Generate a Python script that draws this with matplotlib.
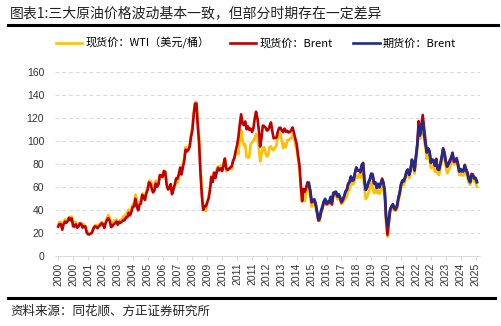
import numpy as np
import matplotlib
import matplotlib.pyplot as plt
from matplotlib.lines import Line2D

matplotlib.use('Agg')

plt.rcParams['font.family'] = ['Noto Sans CJK SC', 'DejaVu Sans']

# Monthly averages, Jan 2000 - Oct 2025 (USD/bbl)
wti_spot = [
    27.3, 29.4, 29.8, 25.7, 28.8, 31.8, 29.7, 31.3, 33.9, 33.1, 34.4, 28.4,   # 2000
    29.6, 29.6, 27.3, 27.5, 28.6, 27.6, 26.4, 27.4, 26.2, 22.2, 19.6, 19.4,   # 2001
    19.7, 20.7, 24.5, 26.2, 27.0, 25.5, 27.0, 28.4, 29.7, 28.8, 26.4, 29.5,   # 2002
    33.0, 35.8, 33.5, 28.2, 28.1, 30.7, 30.8, 31.6, 28.3, 30.3, 31.1, 32.1,   # 2003
    34.3, 34.7, 36.7, 36.8, 40.3, 38.0, 40.8, 44.9, 45.9, 53.3, 48.5, 43.2,   # 2004
    46.8, 48.2, 54.2, 53.0, 49.8, 56.4, 59.0, 65.0, 65.6, 62.3, 58.3, 59.4,   # 2005
    65.5, 61.6, 62.7, 69.4, 70.8, 71.0, 74.4, 73.0, 63.8, 58.9, 59.1, 62.0,   # 2006
    54.5, 59.3, 60.4, 64.0, 63.5, 67.5, 74.1, 72.4, 79.9, 85.8, 94.8, 91.7,   # 2007
    93.0, 95.4, 105.5, 112.6, 125.4, 133.9, 133.4, 116.7, 104.1, 76.6, 57.3, 41.1,  # 2008
    41.7, 39.1, 47.9, 49.7, 59.0, 69.6, 64.2, 71.1, 69.4, 75.7, 78.0, 74.5,   # 2009
    78.3, 76.4, 81.2, 84.3, 73.7, 75.3, 76.3, 76.6, 75.2, 81.9, 84.3, 89.2,   # 2010
    89.2, 88.6, 102.9, 109.5, 100.9, 96.3, 97.3, 86.3, 85.5, 86.3, 97.2, 98.6,  # 2011
    100.3, 102.2, 106.2, 103.3, 94.7, 82.3, 87.9, 94.1, 94.5, 89.5, 86.5, 87.9,  # 2012
    94.8, 95.3, 92.9, 92.0, 94.5, 95.8, 104.7, 106.6, 106.3, 100.5, 93.9, 97.6,  # 2013
    94.6, 100.8, 100.8, 102.1, 102.2, 105.8, 103.6, 96.5, 93.2, 84.4, 75.8, 59.3,  # 2014
    47.2, 50.6, 47.8, 54.5, 59.3, 59.8, 50.9, 42.9, 45.5, 46.2, 42.4, 37.2,   # 2015
    31.7, 30.3, 37.6, 40.8, 46.7, 48.8, 44.7, 44.7, 45.2, 49.8, 45.7, 52.0,   # 2016
    52.5, 53.5, 49.3, 51.1, 48.5, 45.2, 46.6, 48.0, 49.8, 51.6, 56.6, 57.9,   # 2017
    63.7, 62.2, 62.7, 66.3, 70.0, 67.9, 71.0, 68.1, 70.2, 70.8, 57.0, 49.5,   # 2018
    51.4, 55.0, 58.2, 63.9, 60.8, 54.7, 57.4, 54.8, 57.0, 54.0, 57.0, 59.9,   # 2019
    57.5, 50.5, 29.2, 16.6, 28.6, 38.3, 40.7, 42.3, 39.6, 39.4, 40.9, 47.0,   # 2020
    52.0, 59.0, 62.3, 61.7, 65.2, 71.4, 72.5, 67.7, 71.7, 81.5, 79.2, 71.7,   # 2021
    83.2, 91.6, 108.5, 101.8, 109.6, 114.8, 101.6, 93.7, 84.3, 87.6, 84.4, 76.4,  # 2022
    78.1, 76.8, 73.3, 79.5, 71.6, 70.3, 76.1, 81.4, 89.4, 85.6, 77.7, 71.9,   # 2023
    74.2, 77.3, 81.3, 85.4, 80.0, 79.8, 81.8, 76.7, 70.2, 72.0, 70.0, 70.1,   # 2024
    75.1, 71.5, 68.2, 63.5, 61.9, 67.3, 67.1, 64.9, 64.0, 60.1,               # 2025
]

brent_spot = [
    25.5, 27.8, 27.5, 22.8, 27.7, 29.8, 28.7, 30.2, 33.1, 31.0, 32.6, 25.7,   # 2000
    25.6, 27.5, 24.5, 25.7, 28.3, 27.9, 24.6, 25.7, 25.6, 20.5, 18.8, 18.7,   # 2001
    19.4, 20.3, 23.7, 25.7, 25.4, 24.1, 25.7, 26.7, 28.4, 27.5, 24.3, 28.3,   # 2002
    31.2, 32.8, 30.6, 25.0, 25.9, 27.7, 28.4, 29.9, 27.1, 29.6, 28.8, 29.8,   # 2003
    31.3, 30.9, 33.6, 33.6, 37.6, 35.2, 38.2, 42.7, 43.2, 49.8, 43.1, 39.6,   # 2004
    44.5, 45.5, 53.1, 51.9, 48.7, 54.4, 57.5, 64.0, 62.9, 58.5, 55.2, 56.9,   # 2005
    63.0, 60.2, 62.1, 70.3, 69.8, 68.6, 73.7, 73.2, 62.0, 57.8, 58.8, 62.5,   # 2006
    53.7, 57.6, 62.1, 67.5, 67.2, 71.1, 76.9, 70.8, 77.2, 82.3, 92.4, 90.9,   # 2007
    92.2, 95.0, 103.6, 109.1, 122.8, 132.3, 132.7, 113.2, 97.2, 71.6, 52.5, 40.0,  # 2008
    43.4, 43.3, 46.5, 50.2, 57.3, 68.6, 64.4, 72.5, 67.7, 72.8, 76.7, 74.5,   # 2009
    76.2, 73.8, 78.8, 84.8, 76.0, 74.8, 75.6, 77.0, 77.8, 82.7, 85.3, 91.5,   # 2010
    96.5, 103.7, 114.6, 123.3, 115.0, 113.8, 117.0, 110.2, 112.8, 109.6, 110.8, 107.9,  # 2011
    110.7, 119.3, 125.5, 119.8, 110.3, 95.2, 102.6, 113.4, 112.9, 111.7, 109.1, 109.5,  # 2012
    113.0, 116.1, 108.5, 102.3, 102.6, 102.9, 107.9, 111.3, 111.6, 109.1, 107.8, 110.8,  # 2013
    108.1, 108.9, 107.5, 107.8, 109.5, 111.8, 106.8, 101.6, 97.1, 87.4, 79.4, 62.3,  # 2014
    47.8, 58.1, 55.9, 59.5, 64.1, 61.5, 56.6, 46.5, 47.6, 48.4, 44.3, 38.0,   # 2015
    30.7, 32.2, 38.2, 41.6, 46.7, 48.3, 45.0, 45.8, 46.6, 49.5, 44.7, 53.3,   # 2016
    54.6, 54.9, 51.6, 52.3, 50.3, 46.4, 48.5, 51.7, 56.2, 57.5, 62.7, 64.4,   # 2017
    69.1, 65.3, 66.0, 72.1, 77.0, 74.4, 74.3, 72.5, 78.9, 81.0, 64.8, 57.4,   # 2018
    59.4, 64.0, 66.1, 71.2, 71.3, 64.2, 63.9, 59.0, 62.8, 59.7, 63.2, 67.3,   # 2019
    63.7, 55.7, 32.0, 18.4, 29.4, 40.3, 43.2, 44.7, 40.9, 40.2, 42.7, 50.0,   # 2020
    54.8, 62.3, 65.4, 64.8, 68.5, 73.2, 75.2, 70.8, 74.5, 83.5, 81.1, 74.2,   # 2021
    86.5, 97.1, 117.3, 104.6, 113.3, 122.7, 111.9, 100.5, 89.8, 93.3, 91.4, 80.9,  # 2022
    82.5, 82.6, 78.4, 84.6, 75.5, 74.8, 80.1, 86.2, 93.7, 90.6, 82.9, 77.6,   # 2023
    80.1, 83.5, 85.4, 89.9, 81.8, 82.3, 85.2, 80.4, 74.0, 75.6, 74.4, 73.9,   # 2024
    79.3, 75.4, 72.6, 67.8, 64.5, 71.4, 71.0, 67.9, 68.0, 64.6,               # 2025
]

# Brent futures, Jun 2015 - Oct 2025
brent_fut = [
    63.6, 56.8, 47.7, 48.4, 49.3, 45.9, 38.9,                                 # 2015
    31.9, 33.5, 39.8, 43.3, 47.6, 49.7, 46.5, 47.2, 47.2, 51.4, 47.1, 54.9,   # 2016
    55.5, 56.0, 52.5, 53.8, 51.4, 47.6, 49.1, 51.9, 55.5, 57.6, 62.9, 64.2,   # 2017
    69.1, 65.7, 66.7, 72.1, 76.8, 74.4, 74.3, 73.8, 79.1, 80.6, 65.9, 57.7,   # 2018
    60.2, 64.4, 66.9, 71.6, 70.3, 63.0, 64.2, 59.5, 62.3, 59.6, 63.0, 65.9,   # 2019
    63.7, 55.5, 33.7, 26.6, 32.4, 40.8, 43.2, 45.0, 41.9, 41.5, 43.9, 50.2,   # 2020
    55.3, 62.3, 65.7, 65.3, 68.3, 73.4, 75.0, 70.5, 74.9, 83.8, 80.8, 74.8,   # 2021
    86.5, 97.1, 112.5, 105.9, 112.0, 117.5, 105.1, 97.7, 90.6, 93.6, 90.9, 81.3,  # 2022
    83.9, 83.5, 79.2, 83.4, 75.6, 75.0, 80.1, 85.1, 92.6, 88.7, 82.0, 77.9,   # 2023
    80.1, 81.7, 85.4, 89.0, 83.0, 82.6, 84.4, 79.2, 73.3, 75.4, 73.4, 73.6,   # 2024
    78.4, 75.2, 71.5, 66.5, 64.0, 69.8, 70.0, 67.3, 67.6, 64.0,               # 2025
]

# category axis labels (one every 11 months, as in the source chart)
tick_labels = ['2000', '2000', '2001', '2002', '2003', '2004', '2005', '2006',
               '2007', '2008', '2009', '2010', '2011', '2011', '2012', '2013',
               '2014', '2015', '2016', '2017', '2018', '2019', '2020', '2021',
               '2022', '2022', '2023', '2024', '2025']

x = np.arange(len(wti_spot))
x_fut = x[-len(brent_fut):]

fig = plt.figure(figsize=(5.02, 3.26), dpi=100)
ax = fig.add_axes([0.110, 0.215, 0.846, 0.564])

ax.plot(x, wti_spot, color='#FFC000', lw=1.9, label='现货价：WTI（美元/桶）', zorder=3)
ax.plot(x, brent_spot, color='#C00000', lw=1.9, label='现货价：Brent', zorder=4)
ax.plot(x_fut, brent_fut, color='#1F2C8F', lw=1.9, label='期货价：Brent', zorder=5)

ax.set_ylim(0, 160)
ax.set_yticks(np.arange(0, 161, 20))
ax.set_xlim(-2.2, 311.2)
ax.set_xticks(np.arange(len(tick_labels)) * 11)
ax.set_xticklabels(tick_labels, rotation=90)

for lab in ax.get_xticklabels() + ax.get_yticklabels():
    lab.set_family(['Liberation Sans', 'DejaVu Sans'])
    lab.set_fontsize(7.5)
    lab.set_color('#333333')

ax.grid(axis='y', color='#D9D9D9', linestyle=(0, (4, 3)), lw=0.7)
ax.set_axisbelow(True)
for s in ['top', 'right', 'left']:
    ax.spines[s].set_visible(False)
ax.spines['bottom'].set_color('#D9D9D9')
ax.spines['bottom'].set_linewidth(0.7)
ax.tick_params(axis='y', length=0, pad=8)
ax.tick_params(axis='x', length=3, color='#D9D9D9', pad=2)

fig.legend(loc='center', bbox_to_anchor=(0.51, 1 - 43 / 326), ncol=3, frameon=False,
           fontsize=8, handlelength=2.4, columnspacing=1.8, handletextpad=0.3)

# title, rules and source
fig.text(0.02, 1 - 13 / 326, '图表1:三大原油价格波动基本一致，但部分时期存在一定差异',
         fontsize=10, va='center', ha='left', color='#222222')
fig.add_artist(Line2D([0.016, 0.992], [1 - 25 / 326] * 2, color='black', lw=2.2))
fig.add_artist(Line2D([0.016, 0.986], [1 - 298 / 326] * 2, color='black', lw=2.2))
fig.text(0.02, 1 - 311 / 326, '资料来源：同花顺、方正证券研究所',
         fontsize=9, va='center', ha='left', color='#222222', style='italic')

plt.savefig('out.png', dpi=100)
